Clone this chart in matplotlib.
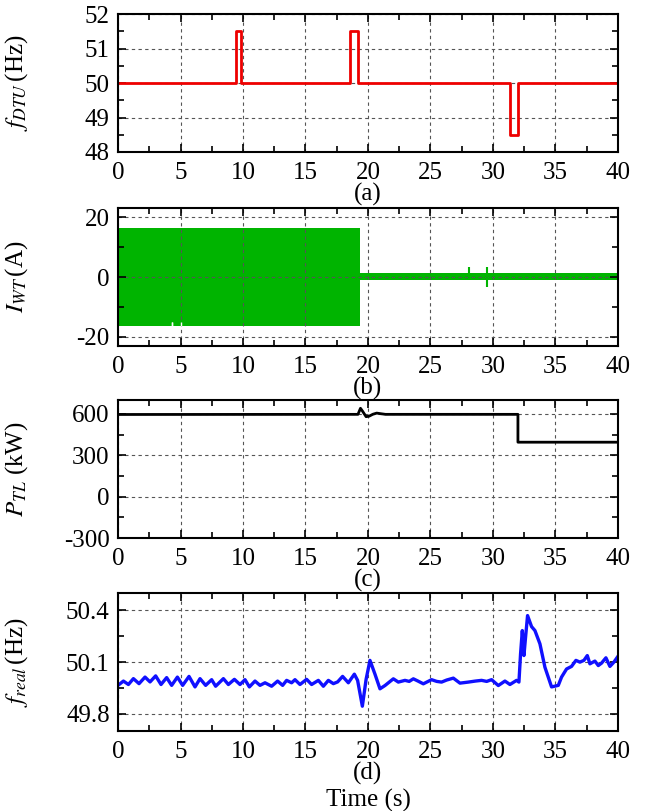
import matplotlib
matplotlib.use("Agg")
import matplotlib.pyplot as plt
from matplotlib.ticker import MultipleLocator

plt.rcParams["font.family"] = "Liberation Serif"
plt.rcParams["mathtext.fontset"] = "stix"
plt.rcParams["axes.unicode_minus"] = False
plt.rcParams["font.size"] = 18

# (a) DTU frequency command
t_dtu = [0, 9.45, 9.45, 9.85, 9.85, 18.6, 18.6, 19.2, 19.2, 31.4, 31.4, 32.0, 32.0, 40]
f_dtu = [50, 50, 51.5, 51.5, 50, 50, 51.5, 51.5, 50, 50, 48.5, 48.5, 50, 50]

# (b) wind turbine current envelope
t_iwt = [0, 19.35, 19.35, 40]
iwt_upper = [16.2, 16.2, 1.2, 1.2]
iwt_lower = [-16.2, -16.2, -1.0, -1.0]
spike_t = [28.1, 29.5]
spike_hi = [3.4, 3.4]
spike_lo = [-1.0, -3.4]
notch_t = [4.3, 4.35, 5.05]

# (c) tie-line power
t_ptl = [0, 19.2, 19.4, 19.55, 19.85, 20.1, 20.4, 20.7, 21.0, 21.4, 32.0, 32.0, 40]
p_tl = [596, 597, 641, 622, 580, 584, 598, 606, 602, 597, 597, 395, 395]

# (d) measured grid frequency
t_real = [0, 0.43, 0.83, 1.23, 1.68, 2.16, 2.56, 3.01, 3.44, 3.89, 4.29, 4.75,
          5.17, 5.68, 6.16, 6.56, 7.01, 7.49, 7.81, 8.43, 8.83, 9.31, 9.76,
          10.16, 10.51, 10.96, 11.36, 11.76, 12.29, 12.77, 13.17, 13.49, 13.89,
          14.16, 14.56, 15.09, 15.49, 16.03, 16.43, 16.83, 17.23, 17.57, 17.97,
          18.43, 18.91, 19.17, 19.55, 19.85, 20.16, 20.56, 20.96, 21.36, 22.03,
          22.43, 22.96, 23.3, 23.63, 24.0, 24.43, 25.09, 25.5, 25.89, 26.3,
          26.83, 27.36, 28.03, 28.6, 29.09, 29.5, 29.89, 30.43, 30.96, 31.36,
          31.89, 32.08, 32.21, 32.35, 32.48, 32.61, 32.77, 33.09, 33.36, 33.76,
          34.16, 34.69, 35.23, 35.49, 35.89, 36.29, 36.64, 36.96, 37.28, 37.55,
          37.76, 38.16, 38.43, 38.69, 39.04, 39.36, 39.68, 40.0]
f_real = [49.965, 49.99, 49.97, 50.004, 49.975, 50.013, 49.985, 50.02, 49.97,
          50.01, 49.965, 50.013, 49.965, 50.017, 49.956, 50.004, 49.965, 49.998,
          49.96, 50.004, 49.97, 50.0, 49.97, 49.998, 49.956, 49.99, 49.965,
          49.98, 49.96, 49.99, 49.965, 49.994, 49.98, 49.998, 49.97, 50.0,
          49.97, 49.994, 49.96, 49.994, 49.975, 49.985, 50.017, 49.98, 50.03,
          49.994, 49.844, 50.0, 50.11, 50.03, 49.945, 49.964, 50.003, 49.984,
          49.994, 49.988, 50.003, 49.99, 49.974, 49.998, 49.988, 49.984, 49.996,
          50.007, 49.978, 49.984, 49.99, 49.994, 49.988, 49.998, 49.964, 49.99,
          49.97, 49.994, 49.984, 50.148, 50.283, 50.138, 50.244, 50.37, 50.306,
          50.283, 50.206, 50.07, 49.956, 49.965, 50.013, 50.06, 50.075, 50.11,
          50.1, 50.11, 50.138, 50.09, 50.106, 50.08, 50.094, 50.125, 50.075,
          50.1, 50.133]

fig = plt.figure(figsize=(6.45, 8.11), dpi=100)
left, width, height = 0.183, 0.775, 0.170
bottoms = [0.8126, 0.5734, 0.3366, 0.0986]
axes = [fig.add_axes([left, b, width, height]) for b in bottoms]


def style_axis(ax, ylim, ymajor, yminor, label, tag):
    ax.set_xlim(0, 40)
    ax.set_ylim(*ylim)
    ax.xaxis.set_major_locator(MultipleLocator(5))
    ax.xaxis.set_minor_locator(MultipleLocator(2.5))
    ax.yaxis.set_major_locator(MultipleLocator(ymajor))
    ax.yaxis.set_minor_locator(MultipleLocator(yminor))
    ax.tick_params(which="both", direction="in", top=True, right=True, width=1.2)
    ax.tick_params(which="major", length=6, labelsize=18)
    ax.tick_params(axis="x", which="major", pad=7)
    ax.tick_params(axis="y", which="major", pad=6)
    ax.tick_params(which="minor", length=4)
    ax.grid(True, which="major", color="#555555", linestyle=(0, (3, 3)), linewidth=0.8)
    for sp in ax.spines.values():
        sp.set_linewidth(1.5)
    ax.set_ylabel(label, fontsize=18)
    ax.yaxis.set_label_coords(-0.176, 0.5)
    ax.text(0.5, -0.31, tag, transform=ax.transAxes, ha="center", va="center", fontsize=18)


ax = axes[0]
ax.plot(t_dtu, f_dtu, color="#ee0000", lw=2)
style_axis(ax, (48, 52), 1, 0.5, r"$f_{DTU}\,$(Hz)", "(a)")

ax = axes[1]
ax.fill_between(t_iwt, iwt_lower, iwt_upper, color="#00b400", lw=0)
ax.vlines(spike_t, spike_lo, spike_hi, color="#00b400", lw=1.5)
ax.vlines(notch_t, -16.3, -15.0, color="white", lw=1)
style_axis(ax, (-23, 23), 20, 10, r"$I_{WT}\,$(A)", "(b)")

ax = axes[2]
ax.plot(t_ptl, p_tl, color="black", lw=2)
style_axis(ax, (-300, 700), 300, 150, r"$P_{TL}$ (kW)", "(c)")

ax = axes[3]
ax.plot(t_real, f_real, color="#1010ff", lw=2.4)
style_axis(ax, (49.7, 50.5), 0.3, 0.15, r"$f_{real}\,$(Hz)", "(d)")
ax.set_yticks([49.8, 50.1, 50.4])
ax.set_yticklabels(["49.8", "50.1", "50.4"])
ax.set_xlabel("Time (s)", fontsize=18, labelpad=19)

fig.savefig("out.png", dpi=100)
